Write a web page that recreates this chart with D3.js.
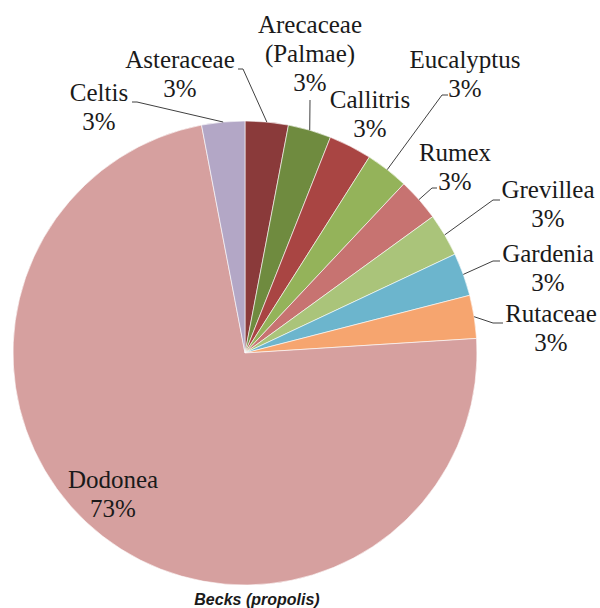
<!DOCTYPE html>
<html>
<head>
<meta charset="utf-8">
<script src="https://cdn.jsdelivr.net/npm/d3@7"></script>
<style>
  body { margin: 0; background: #fff; }
  svg { display: block; }
  svg text.lab { font-family: Tinos, "Times New Roman", "Liberation Serif", Times, serif !important; font-size: 25px; }
</style>
</head>
<body>
<div id="chart"></div>
<script>
// data
var taxa = ["Asteraceae", "Arecaceae (Palmae)", "Callitris", "Eucalyptus", "Rumex",
            "Grevillea", "Gardenia", "Rutaceae", "Dodonea", "Celtis"];
var shares = [3, 3, 3, 3, 3, 3, 3, 3, 73, 3];
var colors = ["#8a3a3a", "#6f8b3f", "#a94543", "#94b35a", "#c77371",
              "#aac47a", "#6cb5cd", "#f6a56f", "#d6a09f", "#b3a7c6"];
var title = "Becks (propolis)";

// label layout: text centre x, first baseline y, leader anchor (null = no leader)
var labelLayout = [
  {x: 180, y: 68,  lines: ["Asteraceae", "3%"], end: [238, 69], bend: [243, 69]},
  {x: 310, y: 33,  lines: ["Arecaceae", "(Palmae)", "3%"], end: [310, 100], bend: null},
  {x: 370, y: 108, lines: ["Callitris", "3%"], end: null},
  {x: 465, y: 68,  lines: ["Eucalyptus", "3%"], end: [448, 95], bend: [442, 95]},
  {x: 455, y: 161, lines: ["Rumex", "3%"], end: [437, 188], bend: [432, 188]},
  {x: 548, y: 198, lines: ["Grevillea", "3%"], end: [500, 200], bend: [493, 200]},
  {x: 548, y: 262, lines: ["Gardenia", "3%"], end: [500, 261], bend: [493, 261]},
  {x: 551, y: 322, lines: ["Rutaceae", "3%"], end: [503, 323], bend: [493, 323]},
  {x: 113, y: 488, lines: ["Dodonea", "73%"], end: null},
  {x: 99,  y: 101, lines: ["Celtis", "3%"], end: [132, 102], bend: [137, 102]}
];

var width = 600, height = 608;
var cx = 245, cy = 353, radius = 232;

var svg = d3.select("#chart").append("svg")
    .attr("width", width)
    .attr("height", height);

var data = taxa.map((t, i) => ({name: t, value: shares[i], color: colors[i], lab: labelLayout[i]}));

var pie = d3.pie()
    .value(d => d.value)
    .sort(null);

var arc = d3.arc()
    .innerRadius(0)
    .outerRadius(radius);

var arcs = pie(data);

var g = svg.append("g")
    .attr("transform", "translate(" + cx + "," + cy + ")");

g.selectAll("path")
  .data(arcs)
  .join("path")
  .attr("d", arc)
  .attr("fill", d => d.data.color)
  .attr("stroke", "#fff")
  .attr("stroke-width", 0.6);

// leader lines from slice edge at mid-angle
var edge = d => {
  var a = (d.startAngle + d.endAngle) / 2;
  return [cx + radius * Math.sin(a), cy - radius * Math.cos(a)];
};

svg.append("g")
  .attr("fill", "none")
  .attr("stroke", "#404040")
  .attr("stroke-width", 1)
  .selectAll("polyline")
  .data(arcs.filter(d => d.data.lab.end))
  .join("polyline")
  .attr("points", d => {
    var pts = [edge(d)];
    if (d.data.lab.bend) pts.push(d.data.lab.bend);
    pts.push(d.data.lab.end);
    return pts.map(p => p.join(",")).join(" ");
  });

var labels = svg.append("g")
  .attr("fill", "#1a1a1a")
  .attr("text-anchor", "middle")
  .selectAll("text")
  .data(data)
  .join("text")
  .attr("class", "lab")
  .attr("font-family", "Tinos, 'Times New Roman', 'Liberation Serif', serif")
  .attr("x", d => d.lab.x)
  .attr("y", d => d.lab.y);

labels.selectAll("tspan")
  .data(d => d.lab.lines.map(l => ({t: l, x: d.lab.x})))
  .join("tspan")
  .attr("x", d => d.x)
  .attr("dy", (d, i) => i === 0 ? 0 : 29)
  .text(d => d.t);

svg.append("text")
  .attr("x", 257)
  .attr("y", 605)
  .attr("text-anchor", "middle")
  .attr("font-family", "'Liberation Sans', Arial, sans-serif")
  .attr("font-weight", "bold")
  .attr("font-style", "italic")
  .attr("font-size", 16)
  .attr("fill", "#1a1a1a")
  .text(title);
</script>
</body>
</html>
